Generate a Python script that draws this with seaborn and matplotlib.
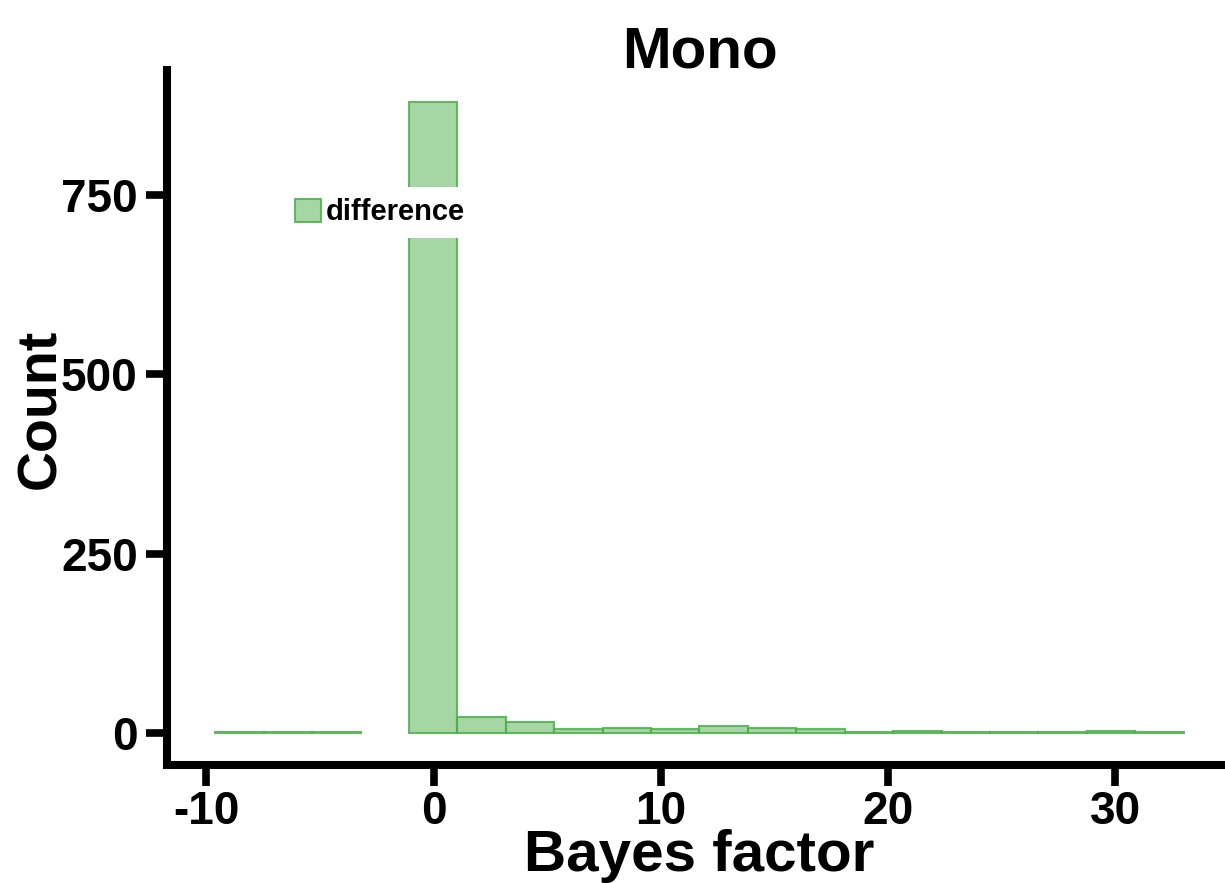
import numpy as np
import pandas as pd
import seaborn as sns
import matplotlib.pyplot as plt

# histogram bins (20 bins from -9.6 to 33.0)
bin_edges = list(np.linspace(-9.6, 33.0, 21))
bin_centers = [(a + b) / 2 for a, b in zip(bin_edges[:-1], bin_edges[1:])]
counts = [1, 2, 1, 0, 879, 22, 16, 5, 7, 5, 10, 7, 6, 1, 3, 1, 1, 1, 3, 1]

x_ticks = [-10, 0, 10, 20, 30]
y_ticks = [0, 250, 500, 750]

df = pd.DataFrame({"bayes": bin_centers, "n": counts})

sns.set_style("white")
plt.rcParams["font.family"] = ["Liberation Sans", "DejaVu Sans"]
plt.rcParams["font.weight"] = "bold"
plt.rcParams["text.color"] = "black"
plt.rcParams["axes.labelcolor"] = "black"
plt.rcParams["xtick.color"] = "black"
plt.rcParams["ytick.color"] = "black"
plt.rcParams["axes.unicode_minus"] = False

fig = plt.figure(figsize=(12.25, 8.83), dpi=100)
ax = fig.add_axes([0.1363, 0.1341, 0.8694, 0.7866])

sns.histplot(data=df, x="bayes", weights="n", bins=bin_edges, color="#4daf4a",
             alpha=0.5, edgecolor=(0.30, 0.69, 0.29, 0.85), linewidth=1.5,
             label="difference", ax=ax)

# empty bins are not drawn in the reference
for p in ax.patches:
    if p.get_height() == 0:
        p.set_visible(False)

ax.set_xlim(-11.73, 35.13)
ax.set_ylim(-44, 924)
ax.set_xticks(x_ticks)
ax.set_yticks(y_ticks)
ax.tick_params(axis="both", bottom=True, left=True, labelsize=33,
               length=15, width=5.5, color="black", labelcolor="black")
ax.tick_params(axis="x", pad=3)
ax.tick_params(axis="y", pad=6)
for lab in ax.get_xticklabels() + ax.get_yticklabels():
    lab.set_fontweight("bold")

sns.despine(ax=ax)
for side in ["left", "bottom"]:
    ax.spines[side].set_linewidth(5.8)
    ax.spines[side].set_color("black")

ax.set_xlabel("Bayes factor", fontsize=42, fontweight="bold")
ax.xaxis.set_label_coords(0.5, -0.0927)
ax.set_ylabel("Count", fontsize=40, fontweight="bold")
ax.yaxis.set_label_coords(-0.0937, 0.512)
ax.set_title("Mono", fontsize=42, fontweight="bold", pad=2)

leg = ax.legend(loc="upper left", bbox_to_anchor=(0.109, 0.832),
                prop={"weight": "bold", "size": 21}, frameon=True,
                fancybox=False, framealpha=1, handlelength=0.9,
                handleheight=0.85, handletextpad=0.15, borderaxespad=0)
leg.get_frame().set_edgecolor("none")
leg.get_frame().set_facecolor("white")

fig.savefig("out.png", dpi=100)
